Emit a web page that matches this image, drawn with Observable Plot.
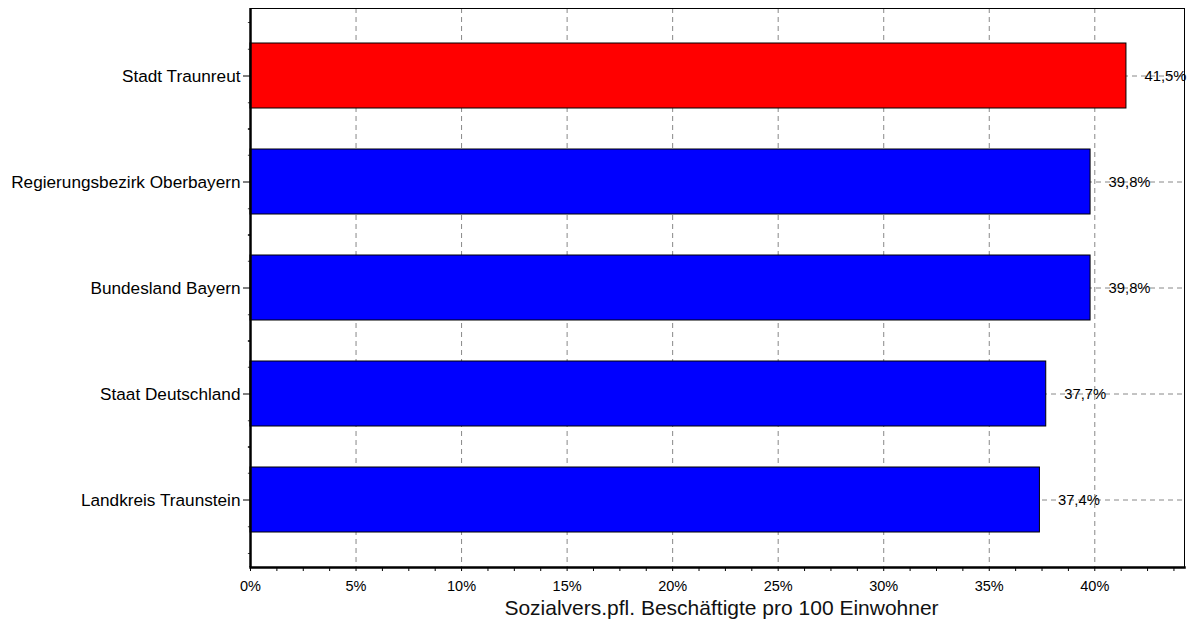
<!DOCTYPE html>
<html>
<head>
<meta charset="utf-8">
<script src="https://cdn.jsdelivr.net/npm/d3@7"></script>
<script src="https://cdn.jsdelivr.net/npm/@observablehq/plot@0.6"></script>
<style>
  html, body { margin: 0; padding: 0; background: white; }
</style>
</head>
<body>
<div id="chart"></div>
<script>
const categories = ["Stadt Traunreut", "Regierungsbezirk Oberbayern", "Bundesland Bayern", "Staat Deutschland", "Landkreis Traunstein"];
const values = [41.5, 39.8, 39.8, 37.7, 37.4];
const barColors = ["#ff0000", "#0000ff", "#0000ff", "#0000ff", "#0000ff"];
const majorTicks = [5, 10, 15, 20, 25, 30, 35, 40];
const minorTicks = d3.range(0, 44.2, 1.25);
const xTitle = "Sozialvers.pfl. Beschäftigte pro 100 Einwohner";

const data = categories.map((name, i) => ({name, value: values[i], color: barColors[i]}));
const fmt = v => v.toFixed(1).replace(".", ",") + "%";

const grid = {stroke: "#888", strokeDasharray: "5,4", strokeWidth: 1, strokeOpacity: 1};

const chart = Plot.plot({
  width: 1193,
  height: 621,
  marginTop: 8,
  marginLeft: 250,
  marginRight: 9,
  marginBottom: 54,
  style: {fontFamily: "'Liberation Sans', Arial, sans-serif", background: "white", color: "black"},
  x: {domain: [0, 44.25]},
  y: {domain: categories, paddingInner: 0.39, paddingOuter: 0.31},
  marks: [
    Plot.ruleX(majorTicks, {x: d => d, ...grid}),
    Plot.ruleY(categories, {y: d => d, ...grid}),
    Plot.barX(data, {x: "value", y: "name", fill: "color", stroke: "black", strokeWidth: 1}),
    Plot.text(data, {x: "value", y: "name", text: d => fmt(d.value), dx: 18, textAnchor: "start", fontSize: 14.8, fill: "black"}),
    ...[-2, -1, 1, 2].map(k => Plot.ruleY(categories, {y: d => d, x1: -0.1, x2: 0, dy: k * 26.75, stroke: "#444"})),
    Plot.axisX({ticks: minorTicks, tickFormat: d => (d % 5 === 0 ? d + "%" : ""), tickSize: 4, tickPadding: 9, fontSize: 14.5, label: null}),
    Plot.axisY({tickSize: 7, tickPadding: 3, fontSize: 17.2, label: null}),
    Plot.frame({stroke: "black", strokeWidth: 1}),
    Plot.ruleX([0], {stroke: "black", strokeWidth: 2.5}),
    Plot.frame({anchor: "bottom", stroke: "black", strokeWidth: 2.5}),
    Plot.text([xTitle], {frameAnchor: "bottom", lineAnchor: "middle", dy: 41, dx: 4, fontSize: 21, fill: "#111"})
  ]
});
document.getElementById("chart").appendChild(chart);
</script>
</body>
</html>
